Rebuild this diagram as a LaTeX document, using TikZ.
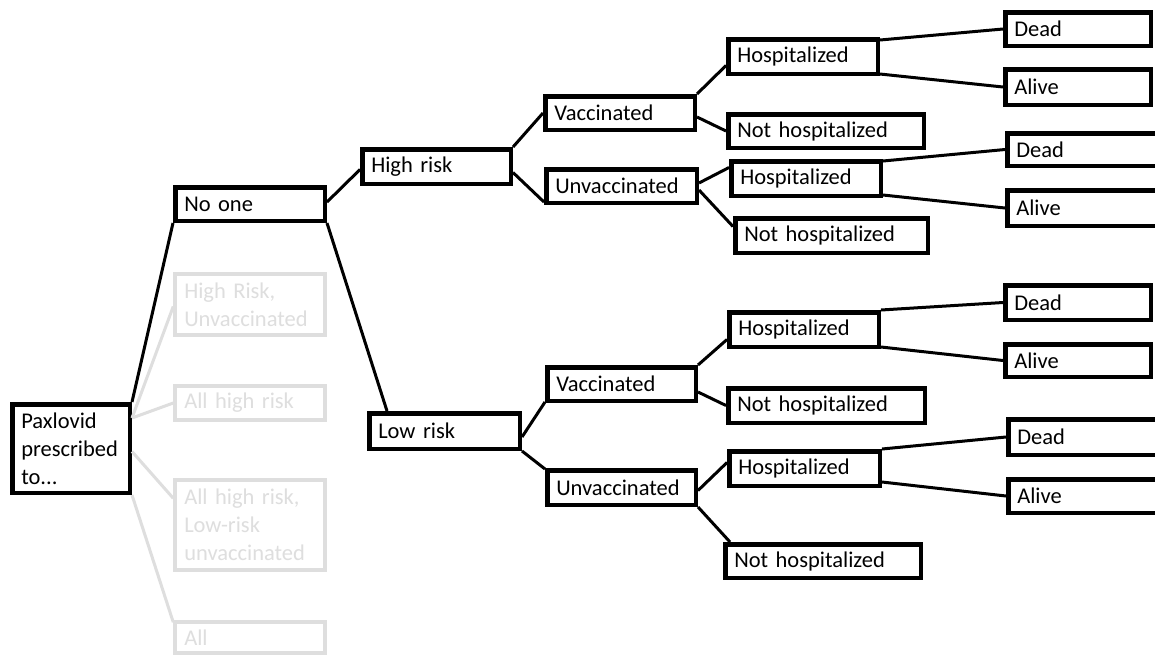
\documentclass[tikz,border=0pt]{standalone}
\usepackage{fontspec}
\setmainfont{Carlito}
\definecolor{faded}{gray}{0.87}
\begin{document}
\begin{tikzpicture}[x=1pt,y=-1pt,
  box/.style={draw,line width=4.5pt,inner xsep=9pt,inner ysep=0pt,align=left,
    font=\fontsize{22.5}{28}\selectfont,fill=white},
  fbox/.style={box,draw=faded,text=faded,line width=4pt},
  conn/.style={line width=3pt,black},
  fconn/.style={line width=3pt,faded}]
\newcommand\bx[7][]{%
  \pgfmathsetmacro\bxw{#5-#3-4.5}%
  \pgfmathsetmacro\bxh{#6-#4-4.5}%
  \pgfmathsetmacro\bxt{#5-#3-4.5-18}%
  \node[box,#1,minimum width=\bxw pt,minimum height=\bxh pt,text width=\bxt pt] (#2) at ({(#3+#5)/2},{(#4+#6)/2}) {#7};}
\useasboundingbox (0,0) rectangle (1155,657);
\clip (0,0) rectangle (1155,657);
\fill[white] (0,0) rectangle (1155,657);
% boxes
\bx{P}{10}{402}{132}{495}{Paxlovid\\prescribed\\to...}
\bx{N}{173}{185}{327}{223}{No one}
\bx[fbox]{F1}{173}{272}{327}{337}{High Risk,\\Unvaccinated}
\bx[fbox]{F2}{173}{384}{327}{422}{All high risk}
\bx[fbox]{F3}{173}{478}{327}{572}{All high risk,\\Low-risk\\unvaccinated}
\bx[fbox]{F4}{173}{620}{327}{655}{All}
\bx{H}{360}{147}{513}{186}{High risk}
\bx{L}{367}{411}{522}{451}{Low risk}
\bx{HV}{543}{94}{697}{132}{Vaccinated}
\bx{HU}{544}{167}{699}{205}{Unvaccinated}
\bx{LV}{545}{365}{698}{403}{Vaccinated}
\bx{LU}{545}{468}{698}{507}{Unvaccinated}
\bx{Ho1}{726}{37}{880}{76}{Hospitalized}
\bx{NH1}{726}{112}{926}{150}{Not hospitalized}
\bx{Ho2}{729}{159}{883}{198}{Hospitalized}
\bx{NH2}{733}{216}{930}{255}{Not hospitalized}
\bx{Ho3}{727}{310}{881}{349}{Hospitalized}
\bx{NH3}{726}{386}{927}{425}{Not hospitalized}
\bx{Ho4}{727}{449}{882}{488}{Hospitalized}
\bx{NH4}{723}{542}{923}{580}{Not hospitalized}
\bx{D1}{1003}{10}{1153}{48}{Dead}
\bx{A1}{1003}{67}{1153}{107}{Alive}
\bx{D2}{1005}{131}{1200}{168}{Dead}
\bx{A2}{1005}{188}{1200}{228}{Alive}
\bx{D3}{1003}{283}{1153}{322}{Dead}
\bx{A3}{1003}{342}{1153}{379}{Alive}
\bx{D4}{1006}{417}{1200}{457}{Dead}
\bx{A4}{1006}{477}{1200}{515}{Alive}
% faded connectors
\draw[fconn] ([yshift=-16pt]P.north east) -- ([yshift=-2pt]F1.west);
\draw[fconn] ([yshift=-16pt]P.north east) -- (F2.west);
\draw[fconn] ([yshift=-3pt]P.east) -- ([yshift=-20pt]F3.north west);
\draw[fconn] (P.south east) -- ([yshift=-2pt]F4.north west);
% connectors
\draw[conn] (P.north east) -- (N.south west);
\draw[conn] ([yshift=2pt]N.east) -- ([yshift=-3pt]H.west);
\draw[conn] (N.south east) -- ([xshift=20pt]L.north west);
\draw[conn] (H.north east) -- (HV.west);
\draw[conn] ([yshift=-6pt]H.east) -- ([yshift=3pt]HU.south west);
\draw[conn] ([yshift=-6pt]L.east) -- ([yshift=1pt]LV.south west);
\draw[conn] (L.south east) -- ([yshift=-1pt]LU.north west);
\draw[conn] (HV.north east) -- ([yshift=-9pt]Ho1.west);
\draw[conn] ([yshift=-4pt]HV.east) -- (NH1.west);
\draw[conn] ([yshift=3pt]HU.east) -- ([yshift=11pt]Ho2.west);
\draw[conn] ([yshift=-4pt]HU.east) -- ([yshift=9pt]NH2.west);
\draw[conn] (LV.north east) -- ([yshift=-10pt]Ho3.west);
\draw[conn] ([yshift=-8pt]LV.east) -- (NH3.west);
\draw[conn] ([yshift=-3pt]LU.east) -- ([yshift=6pt]Ho4.west);
\draw[conn] (LU.south east) -- ([xshift=7pt]NH4.north west);
\draw[conn] ([yshift=-3pt]Ho1.north east) -- (D1.west);
\draw[conn] ([yshift=2pt]Ho1.south east) -- (A1.west);
\draw[conn] ([yshift=-2pt]Ho2.north east) -- (D2.west);
\draw[conn] ([yshift=3pt]Ho2.south east) -- (A2.west);
\draw[conn] (Ho3.north east) -- (D3.west);
\draw[conn] ([yshift=2pt]Ho3.south east) -- (A3.west);
\draw[conn] (Ho4.north east) -- (D4.west);
\draw[conn] ([yshift=6pt]Ho4.south east) -- (A4.west);
\end{tikzpicture}
\end{document}
